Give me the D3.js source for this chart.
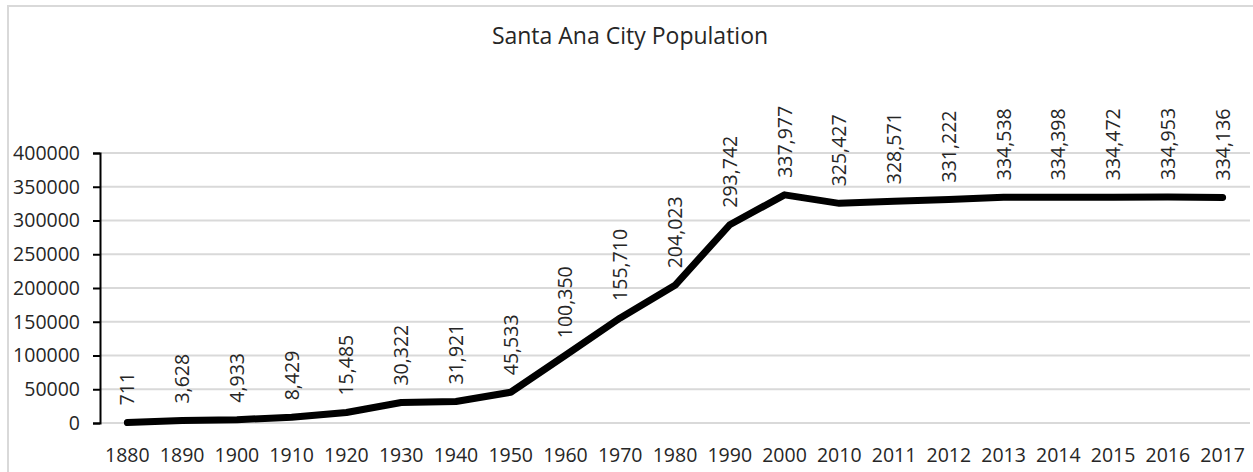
<!DOCTYPE html>
<html><head><meta charset="utf-8">
<script src="https://cdn.jsdelivr.net/npm/d3@7"></script>
<style>body{margin:0;background:#fff}svg{display:block}text{font-family:"Open Sans",sans-serif;fill:#262626}</style>
</head><body><div id="chart"></div>
<script>
const categories = ["1880","1890","1900","1910","1920","1930","1940","1950","1960","1970","1980","1990","2000","2010","2011","2012","2013","2014","2015","2016","2017"];
const population = [711,3628,4933,8429,15485,30322,31921,45533,100350,155710,204023,293742,337977,325427,328571,331222,334538,334398,334472,334953,334136];
const yTicks = [0,50000,100000,150000,200000,250000,300000,350000,400000];
const title = "Santa Ana City Population";

(function(){
const W = 1253, H = 472;
const svg = d3.select("#chart").append("svg").attr("width", W).attr("height", H);
svg.append("path").attr("d", `M${W},6 H8 V${H}`).attr("fill","none").attr("stroke","#d9d9d9").attr("stroke-width",2);

const mLeft = 100, mRight = 1250, mTop = 153, mBottom = 423;
const x = d3.scalePoint().domain(categories).range([mLeft, mRight]).padding(0.5);
const y = d3.scaleLinear().domain([0, 400000]).range([mBottom, mTop]);

svg.append("g").selectAll("line").data(yTicks).join("line")
  .attr("x1", mLeft).attr("x2", mRight)
  .attr("y1", d => y(d)).attr("y2", d => y(d))
  .attr("stroke", "#d9d9d9").attr("stroke-width", 2);

const ya = svg.append("g").attr("transform", `translate(${mLeft},0)`)
  .call(d3.axisLeft(y).tickValues(yTicks).tickFormat(d3.format("d")).tickSize(7).tickPadding(13));
ya.select(".domain").attr("stroke","#000").attr("stroke-width",2);
ya.selectAll(".tick line").attr("stroke","#000").attr("stroke-width",2);
ya.selectAll("text").attr("font-size", 19.5).attr("fill","#262626").attr("font-family","Open Sans");

svg.append("g").selectAll("text").data(categories).join("text")
  .attr("x", d => x(d)).attr("y", 462).attr("text-anchor","middle")
  .attr("font-size", 19.5).text(d => d);

const line = d3.line().x((d,i) => x(categories[i])).y(d => y(d));
svg.append("path").datum(population).attr("d", line)
  .attr("fill","none").attr("stroke","#000").attr("stroke-width",7)
  .attr("stroke-linejoin","round").attr("stroke-linecap","round");

svg.append("g").selectAll("text").data(population).join("text")
  .attr("transform", (d,i) => `translate(${x(categories[i])+7},${y(d)-17}) rotate(-90)`)
  .attr("font-size", 19.5).attr("text-anchor","start")
  .text(d => d3.format(",")(d));

svg.append("text").attr("x", 630).attr("y", 44).attr("text-anchor","middle")
  .attr("font-size", 23).text(title);
})();
</script></body></html>
